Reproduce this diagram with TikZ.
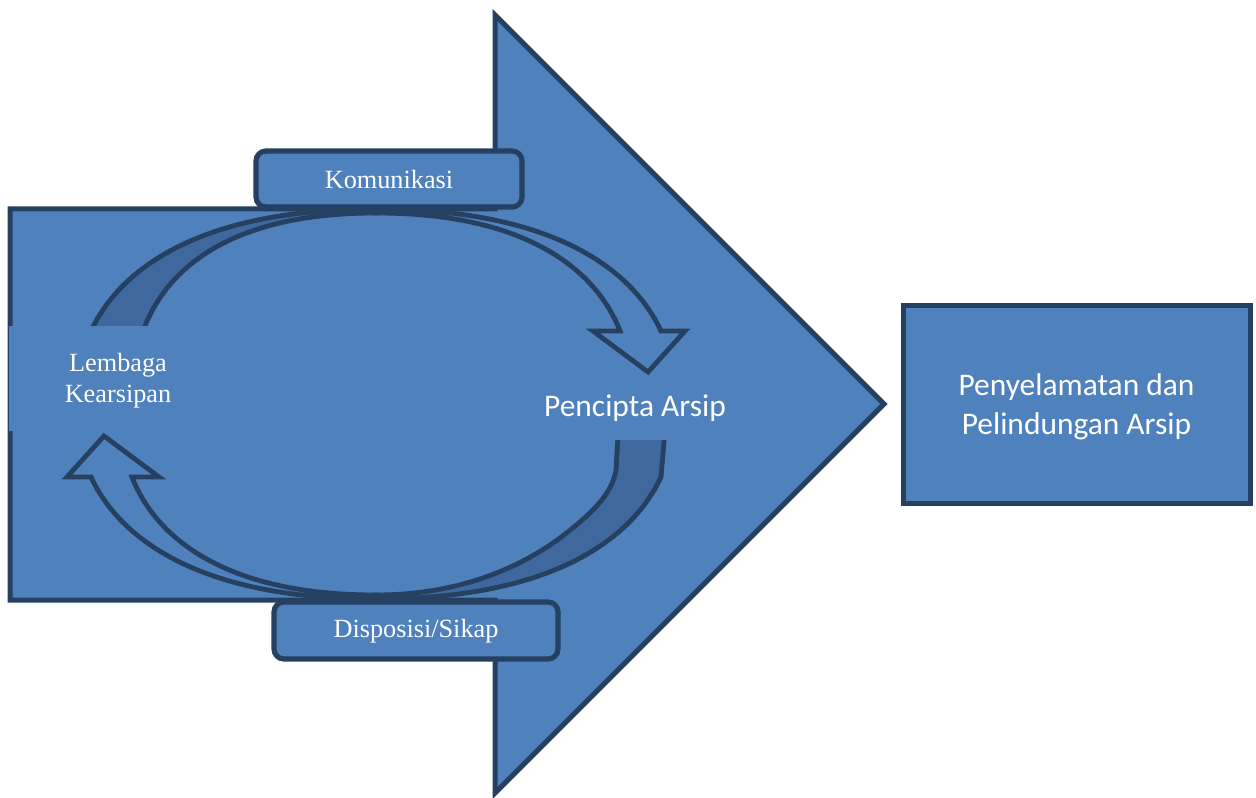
\documentclass[tikz,border=0pt]{standalone}
\usepackage{fontspec}
\setmainfont{Liberation Serif}
\newfontfamily\calibrifont{Carlito}
\definecolor{mainblue}{RGB}{79,129,189}
\definecolor{backblue}{RGB}{62,104,158}
\definecolor{edgeblue}{RGB}{37,64,97}
\begin{document}
\begin{tikzpicture}[x=0.75pt, y=-0.75pt, line join=miter,
  bigarrow/.style={fill=mainblue, draw=edgeblue, line width=3.75pt},
  bandfront/.style={fill=mainblue, draw=edgeblue, line width=3.6pt},
  bandback/.style={fill=backblue, draw=edgeblue, line width=3.6pt},
  cover/.style={fill=mainblue},
  tagbox/.style={fill=mainblue, draw=edgeblue, line width=3.9pt, rounded corners=7.5pt},
  goalbox/.style={fill=mainblue, draw=edgeblue, line width=3.75pt},
  seriflabel/.style={text=white, align=center, inner sep=0pt,
    font=\fontsize{19.7}{23.3}\selectfont},
  sanslabel/.style={text=white, align=center, inner sep=0pt,
    font=\calibrifont\fontsize{23.6}{29.3}\selectfont}]
\useasboundingbox (0,0) rectangle (1256,798);

% large block arrow
\path[bigarrow] (10,209) -- (495,209) -- (495,15) -- (884,404)
  -- (495,793) -- (495,600) -- (10,600) -- cycle;

% upper circular arrow: back face on the left, front face with head on the right
\path[bandback] (376,209) .. controls (168,209) and (109,292) .. (91,331)
  -- (86,390) -- (138,390) -- (143,331)
  .. controls (160,285) and (210,213) .. (376,213) -- cycle;
\path[bandfront] (376,209) .. controls (584,209) and (643,292) .. (661,331)
  -- (685,331) -- (648,372) -- (593,331) -- (620,331)
  .. controls (605,292) and (554,213) .. (376,213) -- cycle;

% lower circular arrow: back face on the right
\path[bandback] (376,599) .. controls (584,599) and (643,516) .. (661,477)
  -- (666,418) -- (619,418) -- (616,470)
  .. controls (612,495) and (590,515) .. (560,538)
  .. controls (530,560) and (470,595) .. (376,595) -- cycle;
% front face with head on the left, the upper front face turned half a turn
\begin{scope}[rotate around={180:(376,404)}]
\path[bandfront] (376,209) .. controls (584,209) and (643,292) .. (661,331)
  -- (685,331) -- (648,372) -- (593,331) -- (620,331)
  .. controls (605,292) and (554,213) .. (376,213) -- cycle;
\end{scope}

% text panels of the two parties
\path[cover] (8.5,326) rectangle (228,431);
\path[cover] (525,376) rectangle (745,440);
\node[seriflabel] (lembaga) at (118,381) {Lembaga\\Kearsipan};
\node[sanslabel] (pencipta) at (635,408) {Pencipta Arsip};

% labels on the circular arrows
\draw[tagbox] (256,151) rectangle (522,207);
\node[seriflabel] (komunikasi) at (389,180) {Komunikasi};
\draw[tagbox] (274,602) rectangle (558,659);
\node[seriflabel] (disposisi) at (416,631) {Disposisi/Sikap};

% outcome
\draw[goalbox] (903,306) rectangle (1250,503);
\node[sanslabel] (hasil) at (1076.5,407) {Penyelamatan dan\\Pelindungan Arsip};
\end{tikzpicture}
\end{document}
